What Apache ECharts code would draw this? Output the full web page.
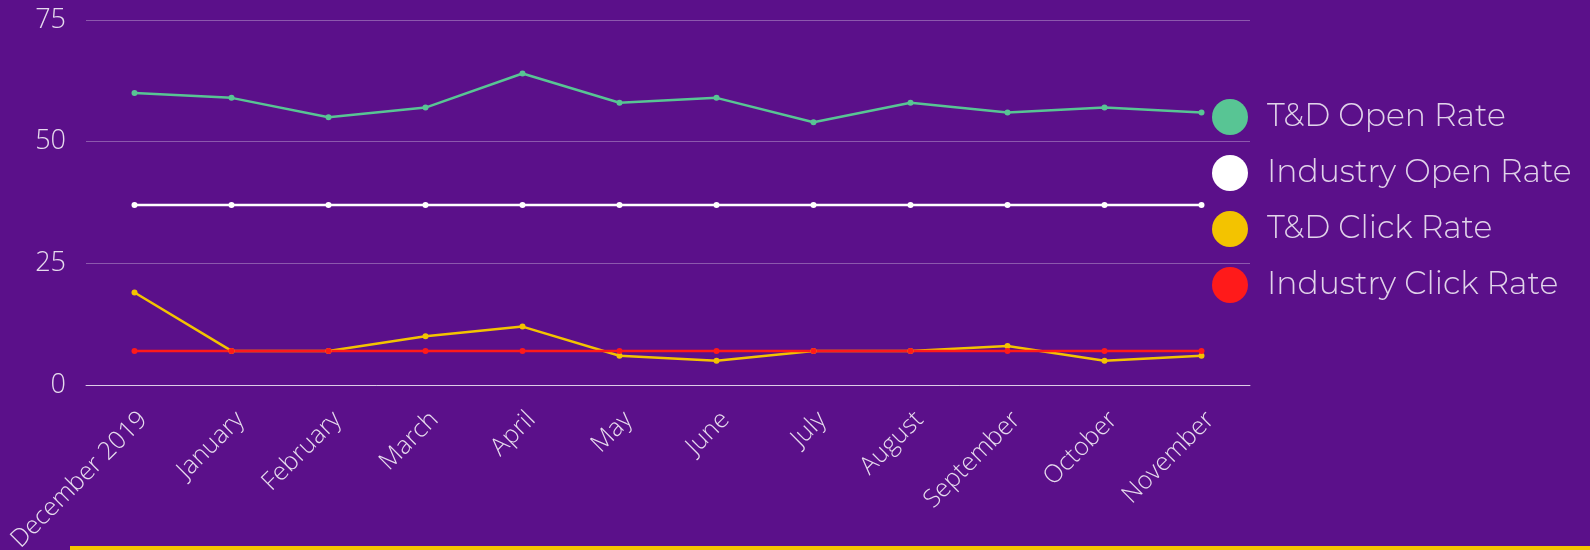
<!DOCTYPE html>
<html>
<head>
<meta charset="utf-8">
<script src="https://cdn.jsdelivr.net/npm/echarts@6/dist/echarts.min.js"></script>
<style>
html,body{margin:0;padding:0;background:#5b108a;}
#c{width:1590px;height:550px;}
</style>
</head>
<body>
<div id="c"></div>
<script>
const categories = ["December 2019","January","February","March","April","May","June","July","August","September","October","November"];
const tdOpen = [60,59,55,57,64,58,59,54,58,56,57,56];
const industryOpen = [37,37,37,37,37,37,37,37,37,37,37,37];
const tdClick = [19,7,7,10,12,6,5,7,7,8,5,6];
const industryClick = [7,7,7,7,7,7,7,7,7,7,7,7];
const seriesNames = ["T&D Open Rate","Industry Open Rate","T&D Click Rate","Industry Click Rate"];
const yTicks = {min:0,max:75,interval:25};

const colors = ['#58c594','#ffffff','#f3c300','#ff1a1a'];
const chart = echarts.init(document.getElementById('c'), null, {renderer:'canvas'});
const mk = (name, data, color) => ({
  name, type:'line', data,
  symbol:'circle', symbolSize:6, showSymbol:true,
  lineStyle:{color, width:2.5},
  itemStyle:{color},
  animation:false
});
chart.setOption({
  backgroundColor:'#5b108a',
  color: colors,
  animation:false,
  grid:{left:86, right:340, top:20, bottom:165, containLabel:false, outerBoundsMode:'none'},
  legend:{
    orient:'vertical', left:1207, top:94, padding:5,
    icon:'circle', itemWidth:36, itemHeight:36, itemGap:20,
    textStyle:{color:'rgba(255,255,255,0.82)', fontFamily:'Montserrat, Inter, "Open Sans", sans-serif', fontWeight:300, fontSize:31.5, lineHeight:36, padding:[0,0,0,14]},
    data: seriesNames
  },
  xAxis:{
    type:'category', data:categories, boundaryGap:true,
    axisLine:{show:true, lineStyle:{color:'rgba(255,255,255,0.7)', width:1}},
    axisTick:{show:false},
    axisLabel:{interval:0, rotate:45, margin:22, verticalAlign:'top', color:'rgba(255,255,255,0.85)', fontFamily:'"Open Sans", sans-serif', fontWeight:300, fontSize:25},
    splitLine:{show:false}
  },
  yAxis:{
    type:'value', min:yTicks.min, max:yTicks.max, interval:yTicks.interval,
    axisLine:{show:false}, axisTick:{show:false},
    axisLabel:{margin:20, color:'rgba(255,255,255,0.85)', fontFamily:'"Open Sans", sans-serif', fontWeight:300, fontSize:27},
    splitLine:{show:true, lineStyle:{color:'rgba(255,255,255,0.3)', width:1}}
  },
  graphic:[{type:'rect', shape:{x:70, y:546, width:1520, height:4}, style:{fill:'#f5c400'}, silent:true}],
  series:[
    mk(seriesNames[0], tdOpen, colors[0]),
    mk(seriesNames[1], industryOpen, colors[1]),
    mk(seriesNames[2], tdClick, colors[2]),
    mk(seriesNames[3], industryClick, colors[3])
  ]
});
</script>
</body>
</html>
